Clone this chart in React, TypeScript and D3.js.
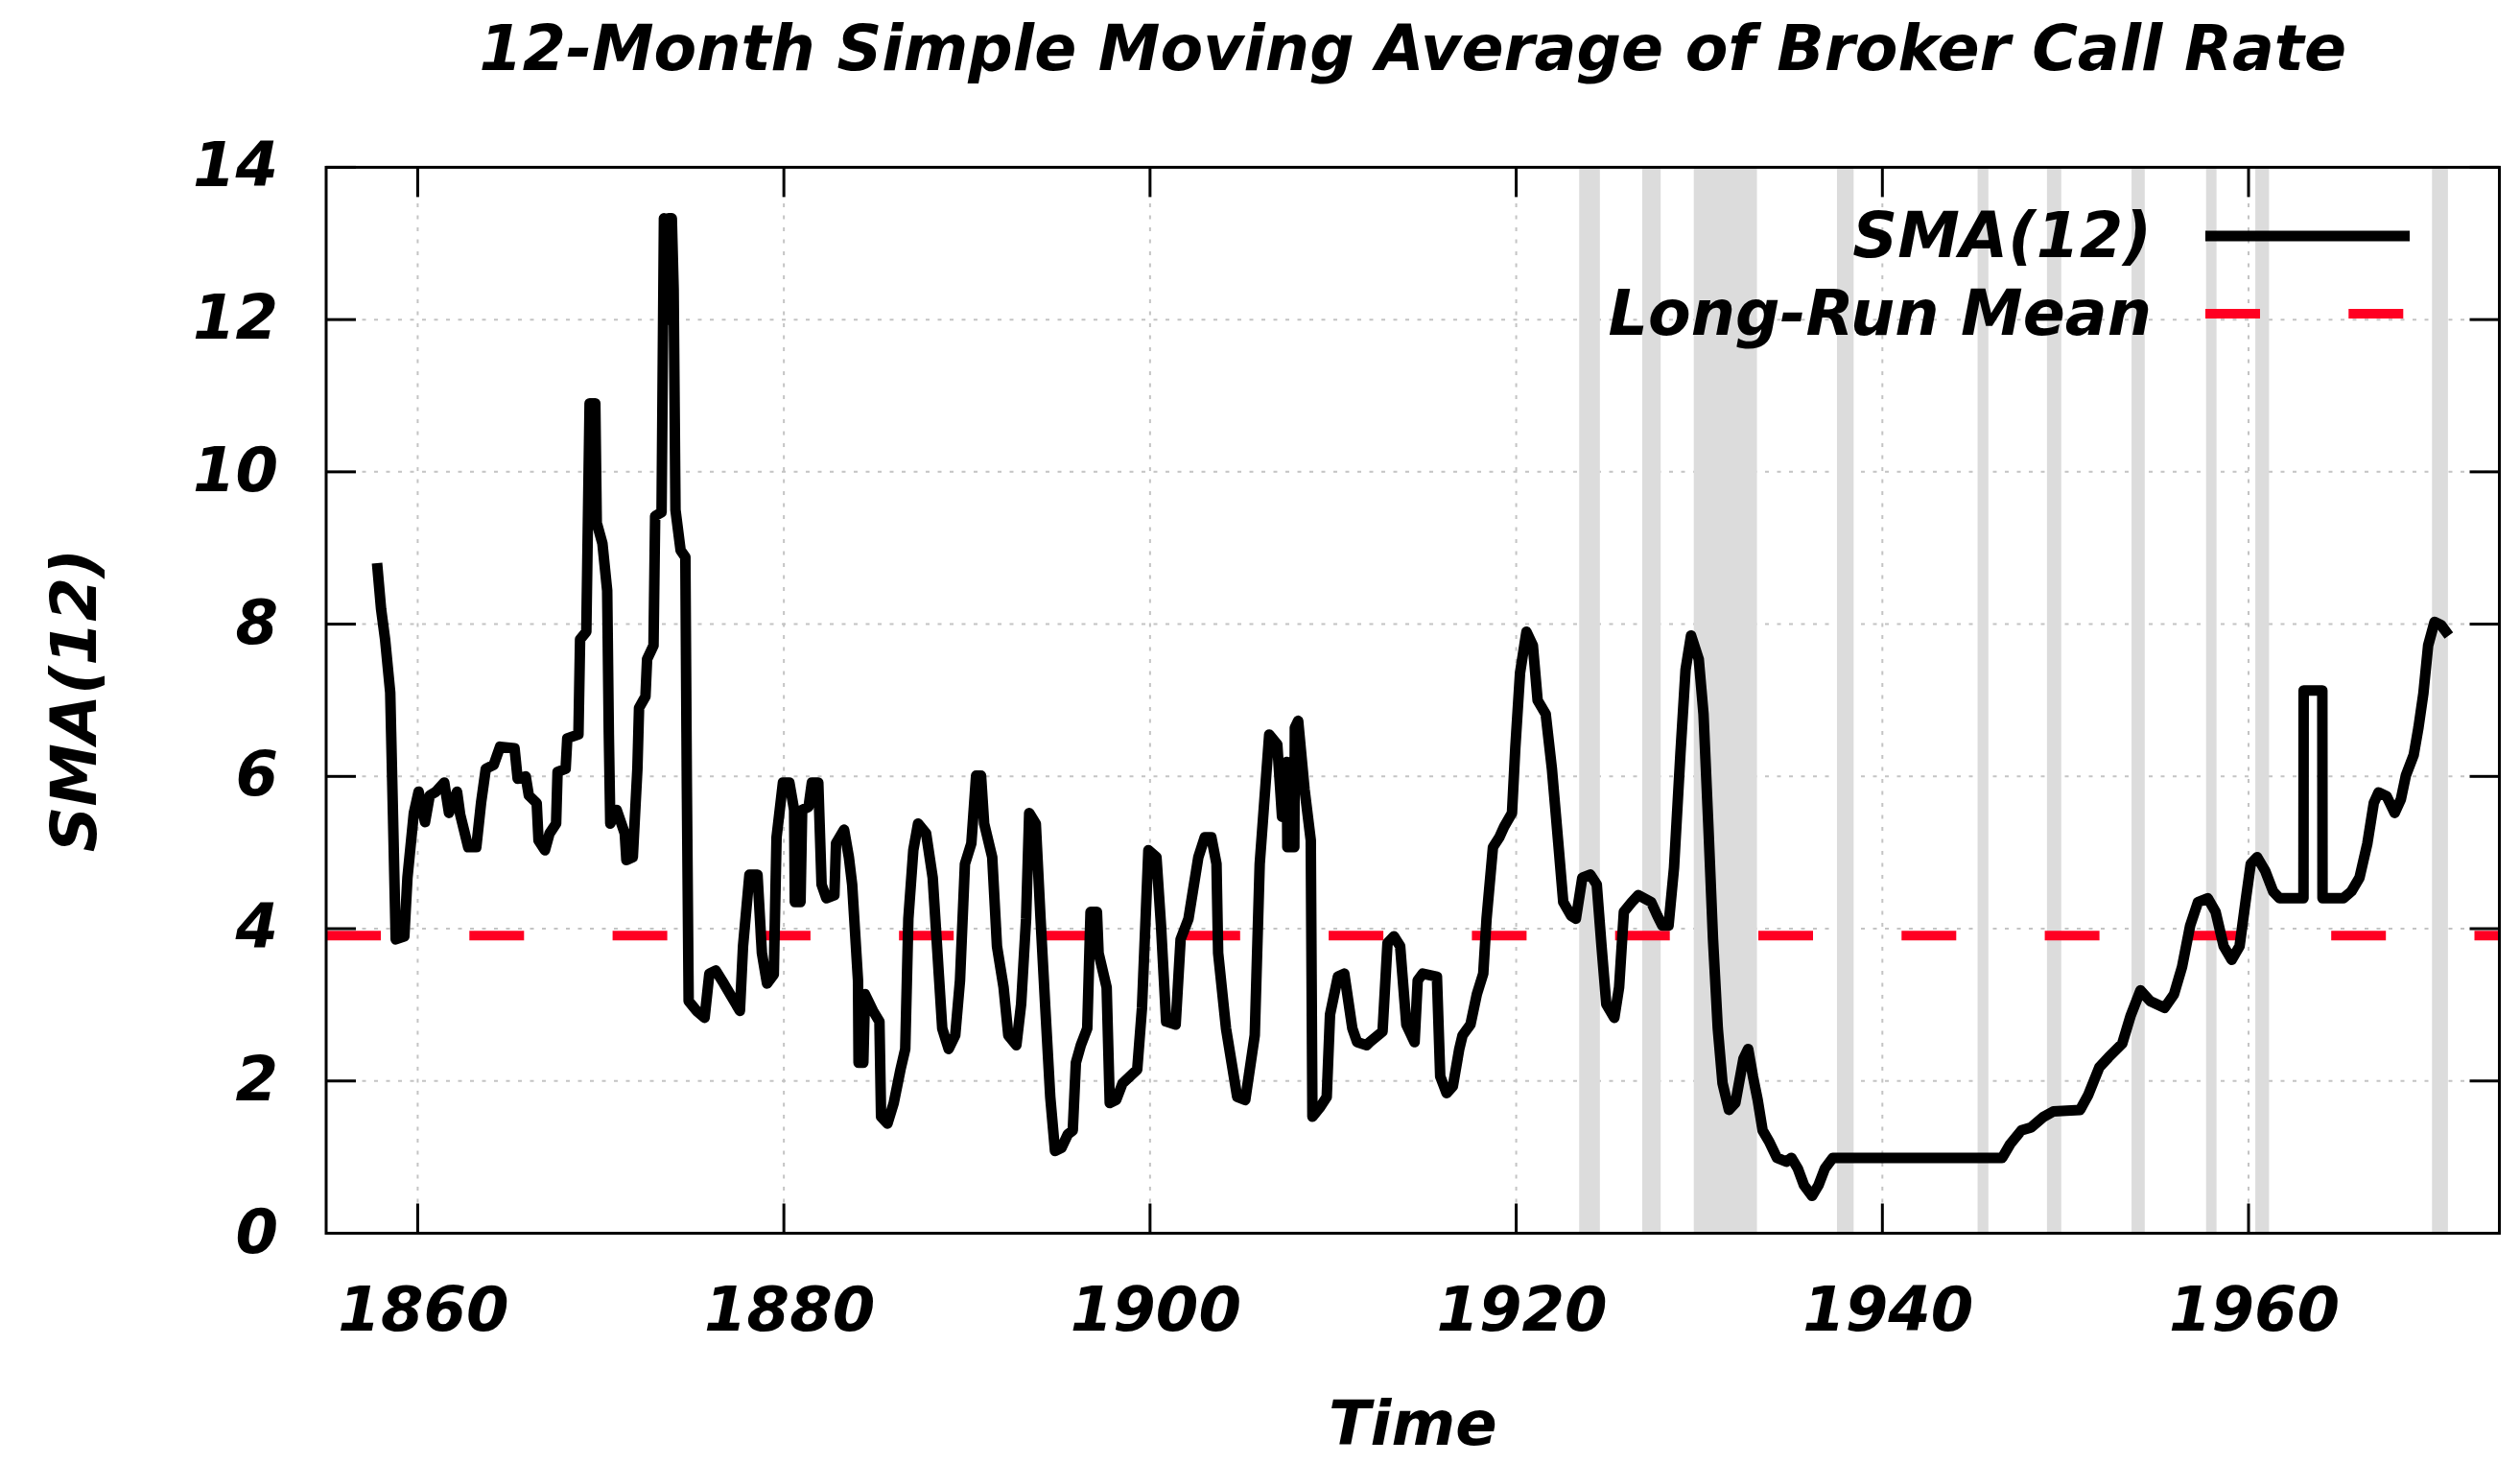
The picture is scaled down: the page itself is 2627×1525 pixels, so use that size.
import React from "react";
import * as d3 from "d3";

// ---- data ----
const smaSeries: [number, number][] = [
  [1857.78, 8.8], [1858.0, 8.2], [1858.22, 7.8], [1858.5, 7.1], [1858.65, 5.5], [1858.8, 3.86],
  [1859.27, 3.9], [1859.44, 4.67], [1859.79, 5.52], [1860.05, 5.8], [1860.4, 5.4], [1860.66, 5.75],
  [1861.0, 5.8], [1861.45, 5.92], [1861.71, 5.52], [1862.15, 5.8], [1862.32, 5.5], [1862.76, 5.07],
  [1863.2, 5.07], [1863.46, 5.65], [1863.72, 6.1], [1864.15, 6.15], [1864.5, 6.39], [1865.29, 6.37],
  [1865.46, 5.97], [1865.9, 6.0], [1866.07, 5.75], [1866.5, 5.65], [1866.6, 5.16], [1866.95, 5.03],
  [1867.2, 5.25], [1867.56, 5.38], [1867.64, 6.06], [1868.08, 6.1], [1868.17, 6.5], [1868.78, 6.55],
  [1868.87, 7.8], [1869.21, 7.9], [1869.39, 10.9], [1869.7, 10.9], [1869.78, 9.33], [1870.09, 9.06],
  [1870.35, 8.44], [1870.44, 6.55], [1870.52, 5.38], [1870.87, 5.56], [1871.31, 5.25], [1871.4, 4.9],
  [1871.75, 4.94], [1872.0, 6.1], [1872.09, 6.9], [1872.44, 7.05], [1872.53, 7.54], [1872.88, 7.72],
  [1872.97, 9.42], [1873.32, 9.47], [1873.45, 13.33], [1873.6, 12.0], [1873.7, 13.33], [1873.88, 13.33],
  [1873.98, 12.4], [1874.08, 9.5], [1874.36, 8.97], [1874.62, 8.88], [1874.7, 5.9], [1874.8, 3.05],
  [1875.24, 2.92], [1875.67, 2.83], [1875.93, 3.41], [1876.28, 3.45], [1876.72, 3.28], [1877.16, 3.1],
  [1877.6, 2.92], [1877.77, 3.77], [1878.12, 4.71], [1878.56, 4.71], [1878.8, 3.68], [1879.08, 3.28],
  [1879.45, 3.4], [1879.6, 5.2], [1879.95, 5.92], [1880.3, 5.92], [1880.56, 5.56], [1880.6, 4.35],
  [1880.91, 4.35], [1881.0, 5.56], [1881.35, 5.6], [1881.53, 5.92], [1881.88, 5.92], [1882.06, 4.58],
  [1882.32, 4.4], [1882.76, 4.44], [1882.85, 5.12], [1883.29, 5.3], [1883.55, 4.94], [1883.73, 4.58],
  [1884.05, 3.32], [1884.08, 2.24], [1884.34, 2.24], [1884.43, 3.14], [1884.87, 2.92], [1885.22, 2.78],
  [1885.31, 1.53], [1885.66, 1.44], [1886.0, 1.71], [1886.37, 2.15], [1886.63, 2.42], [1886.8, 4.13],
  [1887.07, 5.03], [1887.33, 5.38], [1887.77, 5.25], [1888.13, 4.67], [1888.39, 3.68], [1888.65, 2.69],
  [1889.0, 2.42], [1889.36, 2.6], [1889.62, 3.32], [1889.89, 4.85], [1890.24, 5.12], [1890.5, 6.01],
  [1890.77, 6.01], [1890.94, 5.38], [1891.38, 4.94], [1891.64, 3.77], [1892.0, 3.23], [1892.26, 2.6],
  [1892.7, 2.47], [1892.96, 3.01], [1893.23, 4.13], [1893.4, 5.52], [1893.76, 5.38], [1894.02, 4.13],
  [1894.28, 2.96], [1894.55, 1.79], [1894.81, 1.08], [1895.16, 1.12], [1895.51, 1.3], [1895.78, 1.35],
  [1895.95, 2.24], [1896.22, 2.47], [1896.57, 2.69], [1896.75, 4.22], [1897.1, 4.22], [1897.19, 3.68],
  [1897.63, 3.23], [1897.8, 1.71], [1898.15, 1.75], [1898.5, 1.97], [1899.3, 2.15], [1899.56, 2.96],
  [1899.91, 5.03], [1900.35, 4.94], [1900.6, 4.04], [1900.88, 2.78], [1901.4, 2.74], [1901.67, 3.86],
  [1902.1, 4.13], [1902.64, 4.94], [1902.99, 5.2], [1903.35, 5.2], [1903.63, 4.85], [1903.72, 3.68],
  [1904.15, 2.69], [1904.76, 1.79], [1905.2, 1.75], [1905.72, 2.6], [1905.99, 4.85], [1906.25, 5.7],
  [1906.51, 6.55], [1906.95, 6.42], [1907.21, 5.47], [1907.47, 6.19], [1907.5, 5.07], [1907.88, 5.07],
  [1907.91, 6.64], [1908.09, 6.73], [1908.44, 5.83], [1908.78, 5.16], [1908.87, 1.53], [1909.3, 1.66],
  [1909.65, 1.79], [1909.83, 2.87], [1910.26, 3.37], [1910.61, 3.41], [1911.05, 2.69], [1911.31, 2.51],
  [1911.83, 2.47], [1912.0, 2.51], [1912.7, 2.65], [1912.97, 3.81], [1913.32, 3.9], [1913.66, 3.77],
  [1914.0, 2.74], [1914.45, 2.51], [1914.62, 3.32], [1914.89, 3.41], [1915.67, 3.37], [1915.85, 2.06],
  [1916.2, 1.84], [1916.54, 1.93], [1916.89, 2.42], [1917.07, 2.6], [1917.5, 2.74], [1917.85, 3.14],
  [1918.2, 3.41], [1918.38, 4.13], [1918.73, 5.07], [1919.08, 5.2], [1919.34, 5.34], [1919.77, 5.52],
  [1919.95, 6.37], [1920.21, 7.36], [1920.56, 7.9], [1920.91, 7.72], [1921.17, 7.0], [1921.61, 6.82],
  [1921.95, 6.1], [1922.3, 5.12], [1922.57, 4.35], [1923.0, 4.17], [1923.26, 4.13], [1923.61, 4.67],
  [1924.05, 4.71], [1924.4, 4.58], [1924.66, 3.77], [1924.92, 3.01], [1925.36, 2.83], [1925.62, 3.23],
  [1925.88, 4.22], [1926.32, 4.35], [1926.67, 4.44], [1927.37, 4.35], [1927.71, 4.17], [1927.98, 4.04],
  [1928.32, 4.04], [1928.62, 4.8], [1928.97, 6.3], [1929.25, 7.4], [1929.55, 7.85], [1929.97, 7.54],
  [1930.23, 6.82], [1930.49, 5.38], [1930.75, 3.86], [1931.01, 2.69], [1931.27, 1.97], [1931.62, 1.62],
  [1931.97, 1.71], [1932.41, 2.29], [1932.67, 2.42], [1932.93, 2.06], [1933.19, 1.75], [1933.46, 1.35],
  [1933.8, 1.21], [1934.24, 0.99], [1934.76, 0.94], [1935.03, 0.99], [1935.38, 0.85], [1935.72, 0.63],
  [1936.16, 0.49], [1936.51, 0.63], [1936.86, 0.85], [1937.29, 0.99], [1946.54, 0.99], [1946.98, 1.17],
  [1947.59, 1.35], [1948.12, 1.39], [1948.81, 1.53], [1949.34, 1.6], [1950.8, 1.62], [1951.25, 1.82],
  [1951.85, 2.18], [1952.35, 2.31], [1953.1, 2.49], [1953.55, 2.85], [1954.1, 3.19], [1954.62, 3.05],
  [1955.41, 2.96], [1955.93, 3.14], [1956.37, 3.5], [1956.81, 4.04], [1957.24, 4.35], [1957.77, 4.4],
  [1958.2, 4.22], [1958.64, 3.77], [1959.08, 3.59], [1959.51, 3.77], [1959.86, 4.4], [1960.12, 4.85],
  [1960.47, 4.94], [1960.91, 4.76], [1961.34, 4.49], [1961.69, 4.4], [1963.0, 4.4], [1963.01, 7.13],
  [1964.03, 7.13], [1964.04, 4.4], [1965.18, 4.4], [1965.62, 4.49], [1966.06, 4.67], [1966.49, 5.12],
  [1966.84, 5.65], [1967.1, 5.79], [1967.54, 5.74], [1967.98, 5.52], [1968.32, 5.7], [1968.59, 6.01],
  [1969.02, 6.28], [1969.28, 6.64], [1969.55, 7.09], [1969.81, 7.72], [1970.16, 8.03], [1970.51, 7.99],
  [1970.94, 7.85],
];

const longRunMean = 3.91;

const recessions: [number, number][] = [
  [1923.44, 1924.57], [1926.88, 1927.89], [1929.7, 1933.15], [1937.52, 1938.43],
  [1945.2, 1945.79], [1948.99, 1949.77], [1953.61, 1954.33], [1957.68, 1958.25],
  [1960.37, 1961.12], [1970.02, 1970.89],
];

const xTicks = [1860, 1880, 1900, 1920, 1940, 1960];
const yTicks = [0, 2, 4, 6, 8, 10, 12, 14];
const xDomain: [number, number] = [1855, 1973.7];
const yDomain: [number, number] = [0, 14];

const titleText = "12-Month Simple Moving Average of Broker Call Rate";
const xLabel = "Time";
const yLabel = "SMA(12)";
const legendLabels = ["SMA(12)", "Long-Run Mean"];

// ---- layout ----
const W = 2627;
const H = 1525;
const L = 340;
const R = 2605.5;
const T = 174.4;
const B = 1285.5;
const FONT = "'DejaVu Sans', Verdana, sans-serif";
const TICK = 31;
const LINE_W = 11;
const DASH_W = 10;

export default function App() {
  const x = d3.scaleLinear().domain(xDomain).range([L, R]);
  const y = d3.scaleLinear().domain(yDomain).range([B, T]);
  const line = d3
    .line<[number, number]>()
    .x((d) => x(d[0]))
    .y((d) => y(d[1]));

  const textStyle = {
    fontFamily: FONT,
    fontWeight: "bold" as const,
    fontStyle: "italic" as const,
    fill: "#000",
  };

  return (
    <svg
      width={W}
      height={H}
      viewBox={`0 0 ${W} ${H}`}
      style={{ position: "absolute", left: 0, top: 0, background: "#fff" }}
    >
      <defs>
        <clipPath id="plotClip">
          <rect x={L} y={T} width={R - L} height={B - T} />
        </clipPath>
      </defs>
      <rect x={0} y={0} width={W} height={H} fill="#fff" />

      {/* grid */}
      <g stroke="#c4c4c4" strokeWidth={2} strokeDasharray="4 8.5">
        {xTicks.map((t) => (
          <line key={`gx${t}`} x1={x(t)} x2={x(t)} y1={T} y2={B} />
        ))}
        {yTicks
          .filter((t) => t > yDomain[0] && t < yDomain[1])
          .map((t) => (
            <line key={`gy${t}`} x1={L} x2={R} y1={y(t)} y2={y(t)} />
          ))}
      </g>

      {/* recession bands */}
      <g fill="#dcdcdc">
        {recessions.map(([a, b], i) => (
          <rect key={`r${i}`} x={x(a)} y={T} width={x(b) - x(a)} height={B - T} />
        ))}
      </g>

      <g clipPath="url(#plotClip)">
        {/* long-run mean */}
        <line
          x1={L}
          x2={R}
          y1={y(longRunMean)}
          y2={y(longRunMean)}
          stroke="#ff0022"
          strokeWidth={DASH_W}
          strokeDasharray="57 92.3"
        />
        {/* SMA line */}
        <path
          d={line(smaSeries) || ""}
          fill="none"
          stroke="#000"
          strokeWidth={LINE_W}
          strokeLinejoin="round"
          strokeLinecap="butt"
        />
      </g>

      {/* frame */}
      <rect x={L} y={T} width={R - L} height={B - T} fill="none" stroke="#000" strokeWidth={3} />

      {/* ticks */}
      <g stroke="#000" strokeWidth={3}>
        {yTicks.map((t) => (
          <g key={`ty${t}`}>
            <line x1={L} x2={L + TICK} y1={y(t)} y2={y(t)} />
            <line x1={R} x2={R - TICK} y1={y(t)} y2={y(t)} />
          </g>
        ))}
        {xTicks.map((t) => (
          <g key={`tx${t}`}>
            <line x1={x(t)} x2={x(t)} y1={B} y2={B - TICK} />
            <line x1={x(t)} x2={x(t)} y1={T} y2={T + TICK} />
          </g>
        ))}
      </g>

      {/* tick labels */}
      <g style={textStyle} fontSize={64}>
        {yTicks.map((t) => (
          <text key={`ly${t}`} x={290} y={y(t) + 20} textAnchor="end">
            {t}
          </text>
        ))}
        {xTicks.map((t) => (
          <text key={`lx${t}`} x={x(t) + 6} y={1387} textAnchor="middle">
            {t}
          </text>
        ))}
      </g>

      {/* title & axis labels */}
      <text style={textStyle} fontSize={65} x={(L + R) / 2} y={73} textAnchor="middle">
        {titleText}
      </text>
      <text style={textStyle} fontSize={64} x={(L + R) / 2} y={1506} textAnchor="middle">
        {xLabel}
      </text>
      <text
        style={textStyle}
        fontSize={66}
        textAnchor="middle"
        transform={`translate(100, ${(T + B) / 2}) rotate(-90)`}
      >
        {yLabel}
      </text>

      {/* legend */}
      <g style={textStyle} fontSize={65}>
        <text x={2243} y={268} textAnchor="end">
          {legendLabels[0]}
        </text>
        <text x={2243} y={349} textAnchor="end">
          {legendLabels[1]}
        </text>
      </g>
      <line x1={2299} x2={2512} y1={246} y2={246} stroke="#000" strokeWidth={LINE_W} />
      <line
        x1={2299}
        x2={2512}
        y1={327}
        y2={327}
        stroke="#ff0022"
        strokeWidth={DASH_W}
        strokeDasharray="57 92.3"
      />
    </svg>
  );
}
